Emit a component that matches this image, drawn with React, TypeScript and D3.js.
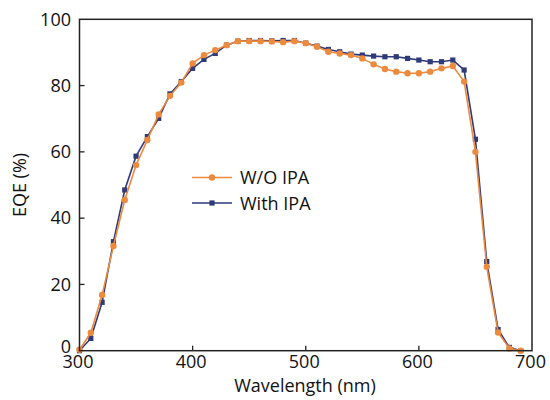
import React from "react";
import * as d3 from "d3";

const wavelengths = d3.range(300, 700, 10);
const woIPA = [0.3, 5.4, 16.8, 31.6, 45.5, 56, 63.6, 71.3, 76.9, 80.9, 86.7, 89.2, 90.7, 92.2, 93.4, 93.4, 93.4, 93.3, 93.1, 93.4, 92.8, 91.7, 90.2, 89.7, 89.2, 88.2, 86.4, 85.0, 84.2, 83.7, 83.7, 84.2, 85.2, 85.9, 81.2, 60, 25.3, 5.5, 0.7, 0];
const withIPA = [0, 3.7, 14.6, 32.9, 48.5, 58.7, 64.6, 70.1, 77.5, 81.2, 85.2, 87.9, 89.7, 92.2, 93.4, 93.6, 93.6, 93.5, 93.6, 93.6, 92.8, 91.9, 90.9, 90.2, 89.5, 89.2, 88.9, 88.7, 88.7, 88.2, 87.7, 87.2, 87.2, 87.7, 84.7, 63.8, 26.9, 6.4, 1, 0];
const xTicks = [300, 400, 500, 600, 700];
const yTicks = [0, 20, 40, 60, 80, 100];
const seriesNames = ["W/O IPA", "With IPA"];

const ORANGE = "#EC8A3E";
const NAVY = "#2F3A78";
const FONT = "'Open Sans', sans-serif";
const FS = 18;

export default function App() {
  const x = d3.scaleLinear().domain([300, 700]).range([79.5, 532]);
  const y = d3.scaleLinear().domain([0, 100]).range([350.7, 19.3]);
  const line = d3
    .line<number>()
    .x((_, i) => x(wavelengths[i]))
    .y((d) => y(d));

  const x0 = x(300), x1 = x(700), y0 = y(0), y1 = y(100);

  return (
    <svg width={550} height={400} style={{ position: "absolute", left: 0, top: 0, background: "#fff" }} fontFamily={FONT}>
      {/* With IPA */}
      <path d={line(withIPA) || ""} fill="none" stroke={NAVY} strokeWidth={1.6} />
      {withIPA.map((v, i) => (
        <rect key={"n" + i} x={x(wavelengths[i]) - 2.6} y={y(v) - 2.6} width={5.2} height={5.2} fill={NAVY} />
      ))}
      {/* W/O IPA */}
      <path d={line(woIPA) || ""} fill="none" stroke={ORANGE} strokeWidth={1.6} />
      {woIPA.map((v, i) => (
        <circle key={"o" + i} cx={x(wavelengths[i])} cy={y(v)} r={3.2} fill={ORANGE} />
      ))}

      {/* frame */}
      <rect x={x0} y={y1} width={x1 - x0} height={y0 - y1} fill="none" stroke="#222" strokeWidth={1.5} />
      {xTicks.slice(1, -1).map((t) => (
        <line key={"xt" + t} x1={x(t)} x2={x(t)} y1={y0} y2={y0 - 5} stroke="#222" strokeWidth={1.3} />
      ))}
      {yTicks.slice(1, -1).map((t) => (
        <line key={"yt" + t} x1={x0} x2={x0 + 5} y1={y(t)} y2={y(t)} stroke="#222" strokeWidth={1.3} />
      ))}
      {xTicks.map((t) => (
        <text key={"xl" + t} x={x(t) - 1.5} y={367.5} textAnchor="middle" fontSize={FS} fill="#111">
          {t}
        </text>
      ))}
      {yTicks.map((t) => (
        <text key={"yl" + t} x={71} y={t === 0 ? y(t) + 2.5 : y(t) + 6.2} textAnchor="end" fontSize={FS} fill="#111">
          {t}
        </text>
      ))}
      <text x={305} y={391.5} textAnchor="middle" fontSize={FS} fill="#111">
        Wavelength (nm)
      </text>
      <text transform="translate(26,185) rotate(-90)" textAnchor="middle" fontSize={FS} fill="#111">
        EQE (%)
      </text>

      {/* legend */}
      <line x1={192} x2={232} y1={177.5} y2={177.5} stroke={ORANGE} strokeWidth={1.6} />
      <circle cx={212} cy={177.5} r={3.2} fill={ORANGE} />
      <text x={240} y={184.3} fontSize={FS} fill="#111">
        {seriesNames[0]}
      </text>
      <line x1={192} x2={232} y1={203} y2={203} stroke={NAVY} strokeWidth={1.6} />
      <rect x={209.4} y={200.4} width={5.2} height={5.2} fill={NAVY} />
      <text x={240} y={209.8} fontSize={FS} fill="#111">
        {seriesNames[1]}
      </text>
    </svg>
  );
}
